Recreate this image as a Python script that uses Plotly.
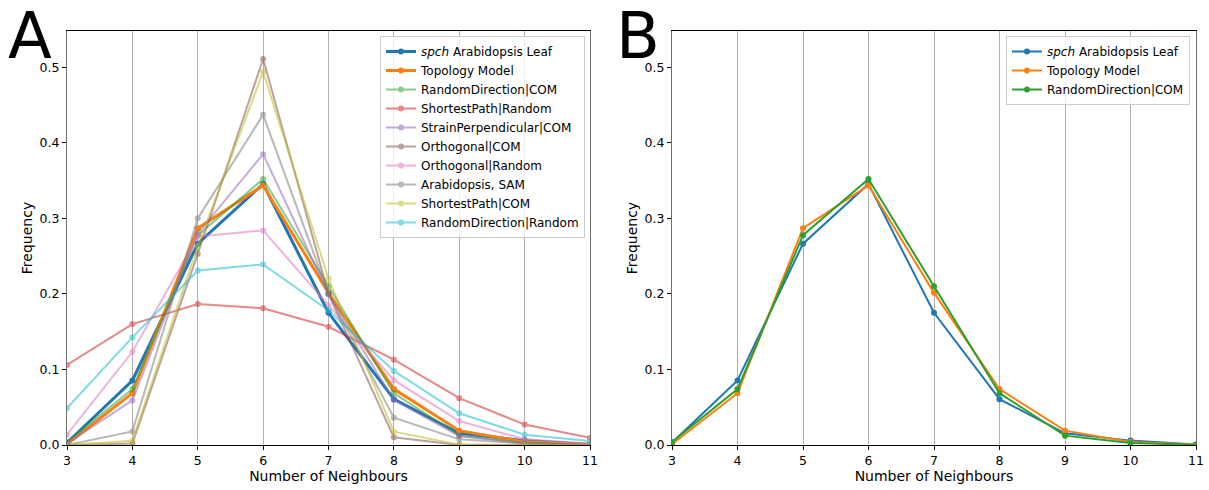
import plotly.graph_objects as go
from plotly.subplots import make_subplots

# Number of neighbours (x axis)
neighbours = [3, 4, 5, 6, 7, 8, 9, 10, 11]

# Frequencies
spch_leaf = [0.003, 0.0854, 0.2665, 0.3455, 0.175, 0.0607, 0.0155, 0.0058, 0.0005]
topology_model = [0.001, 0.0686, 0.287, 0.3435, 0.2014, 0.074, 0.019, 0.004, 0.0005]
random_direction_com = [0.004, 0.074, 0.2777, 0.352, 0.21, 0.0686, 0.0124, 0.0027, 0.0003]
shortest_path_random = [0.106, 0.160, 0.1867, 0.181, 0.1565, 0.113, 0.062, 0.027, 0.0097]
strain_perpendicular_com = [0.002, 0.059, 0.28, 0.385, 0.2, 0.0597, 0.012, 0.002, 0.0]
orthogonal_com = [0.0, 0.002, 0.253, 0.511, 0.2, 0.0102, 0.0, 0.0, 0.0]
orthogonal_random = [0.0137, 0.1234, 0.276, 0.284, 0.185, 0.0858, 0.0318, 0.0075, 0.002]
arabidopsis_sam = [0.0, 0.018, 0.300, 0.437, 0.2, 0.036, 0.0075, 0.002, 0.0]
shortest_path_com = [0.0, 0.0057, 0.263, 0.494, 0.22, 0.0177, 0.0005, 0.0, 0.0]
random_direction_random = [0.049, 0.1424, 0.231, 0.239, 0.178, 0.098, 0.042, 0.0137, 0.0053]

y_ticks = [0.0, 0.1, 0.2, 0.3, 0.4, 0.5]

# name, values, colour, width, opacity
panel_a = [
    ("<i>spch</i> Arabidopsis Leaf", spch_leaf, "#1f77b4", 3, 1.0),
    ("Topology Model", topology_model, "#ff7f0e", 3, 1.0),
    ("RandomDirection|COM", random_direction_com, "#2ca02c", 2, 0.55),
    ("ShortestPath|Random", shortest_path_random, "#d62728", 2, 0.55),
    ("StrainPerpendicular|COM", strain_perpendicular_com, "#9467bd", 2, 0.55),
    ("Orthogonal|COM", orthogonal_com, "#8c564b", 2, 0.55),
    ("Orthogonal|Random", orthogonal_random, "#e377c2", 2, 0.55),
    ("Arabidopsis, SAM", arabidopsis_sam, "#7f7f7f", 2, 0.55),
    ("ShortestPath|COM", shortest_path_com, "#bcbd22", 2, 0.55),
    ("RandomDirection|Random", random_direction_random, "#17becf", 2, 0.55),
]
panel_b = [
    ("<i>spch</i> Arabidopsis Leaf", spch_leaf, "#1f77b4"),
    ("Topology Model", topology_model, "#ff7f0e"),
    ("RandomDirection|COM", random_direction_com, "#2ca02c"),
]

fig = make_subplots(rows=1, cols=2)

for name, vals, col, w, op in panel_a:
    fig.add_trace(go.Scatter(x=neighbours, y=vals, name=name, mode="lines+markers",
                             line=dict(color=col, width=w), marker=dict(size=6, color=col),
                             opacity=op, legend="legend"), row=1, col=1)

for name, vals, col in panel_b:
    fig.add_trace(go.Scatter(x=neighbours, y=vals, name=name, mode="lines+markers",
                             line=dict(color=col, width=2), marker=dict(size=6, color=col),
                             legend="legend2"), row=1, col=2)

axis_x = dict(range=[3, 11], dtick=1, tick0=3, showgrid=True, gridcolor="#b0b0b0", gridwidth=1,
              showline=True, linecolor="black", linewidth=1, mirror=True,
              ticks="outside", ticklen=4, tickcolor="black", zeroline=False, automargin=False,
              title=dict(text="Number of Neighbours", font=dict(size=14), standoff=4),
              tickfont=dict(size=12.5))
axis_y = dict(range=[0, 0.548], tickvals=y_ticks, tickformat=".1f", showgrid=False,
              showline=True, linecolor="#707070", linewidth=1, mirror=True,
              ticks="outside", ticklen=4, tickcolor="black", zeroline=False, automargin=False,
              title=dict(text="Frequency", font=dict(size=14), standoff=3),
              tickfont=dict(size=12.5))

fig.update_layout(
    width=1209, height=490,
    margin=dict(l=0, r=0, t=0, b=0, autoexpand=False),
    paper_bgcolor="white", plot_bgcolor="white",
    font=dict(family="DejaVu Sans", color="black"),
    xaxis=dict(axis_x, domain=[67 / 1209, 590 / 1209]),
    xaxis2=dict(axis_x, domain=[672 / 1209, 1196 / 1209]),
    yaxis=dict(axis_y, domain=[1 - 445 / 490, 1 - 31 / 490]),
    yaxis2=dict(axis_y, domain=[1 - 445 / 490, 1 - 31 / 490]),
    legend=dict(x=585 / 1209, y=1 - 36 / 490, xanchor="right", yanchor="top",
                bgcolor="rgba(255,255,255,0.8)", bordercolor="#cccccc", borderwidth=1,
                font=dict(size=12), tracegroupgap=0),
    legend2=dict(x=1190 / 1209, y=1 - 36 / 490, xanchor="right", yanchor="top",
                 bgcolor="rgba(255,255,255,0.8)", bordercolor="#cccccc", borderwidth=1,
                 font=dict(size=12)),
    annotations=[
        dict(text="A", x=6 / 1209, y=1 - 36 / 490, xref="paper", yref="paper",
             xanchor="left", yanchor="middle", showarrow=False, font=dict(size=64)),
        dict(text="B", x=614 / 1209, y=1 - 36 / 490, xref="paper", yref="paper",
             xanchor="left", yanchor="middle", showarrow=False, font=dict(size=64)),
    ],
)

# drop the page's default 8px body margin so the figure sits at the top-left corner
fig.write_html("out.html", config={"displayModeBar": False},
               post_script="document.body.style.margin = '0';")
